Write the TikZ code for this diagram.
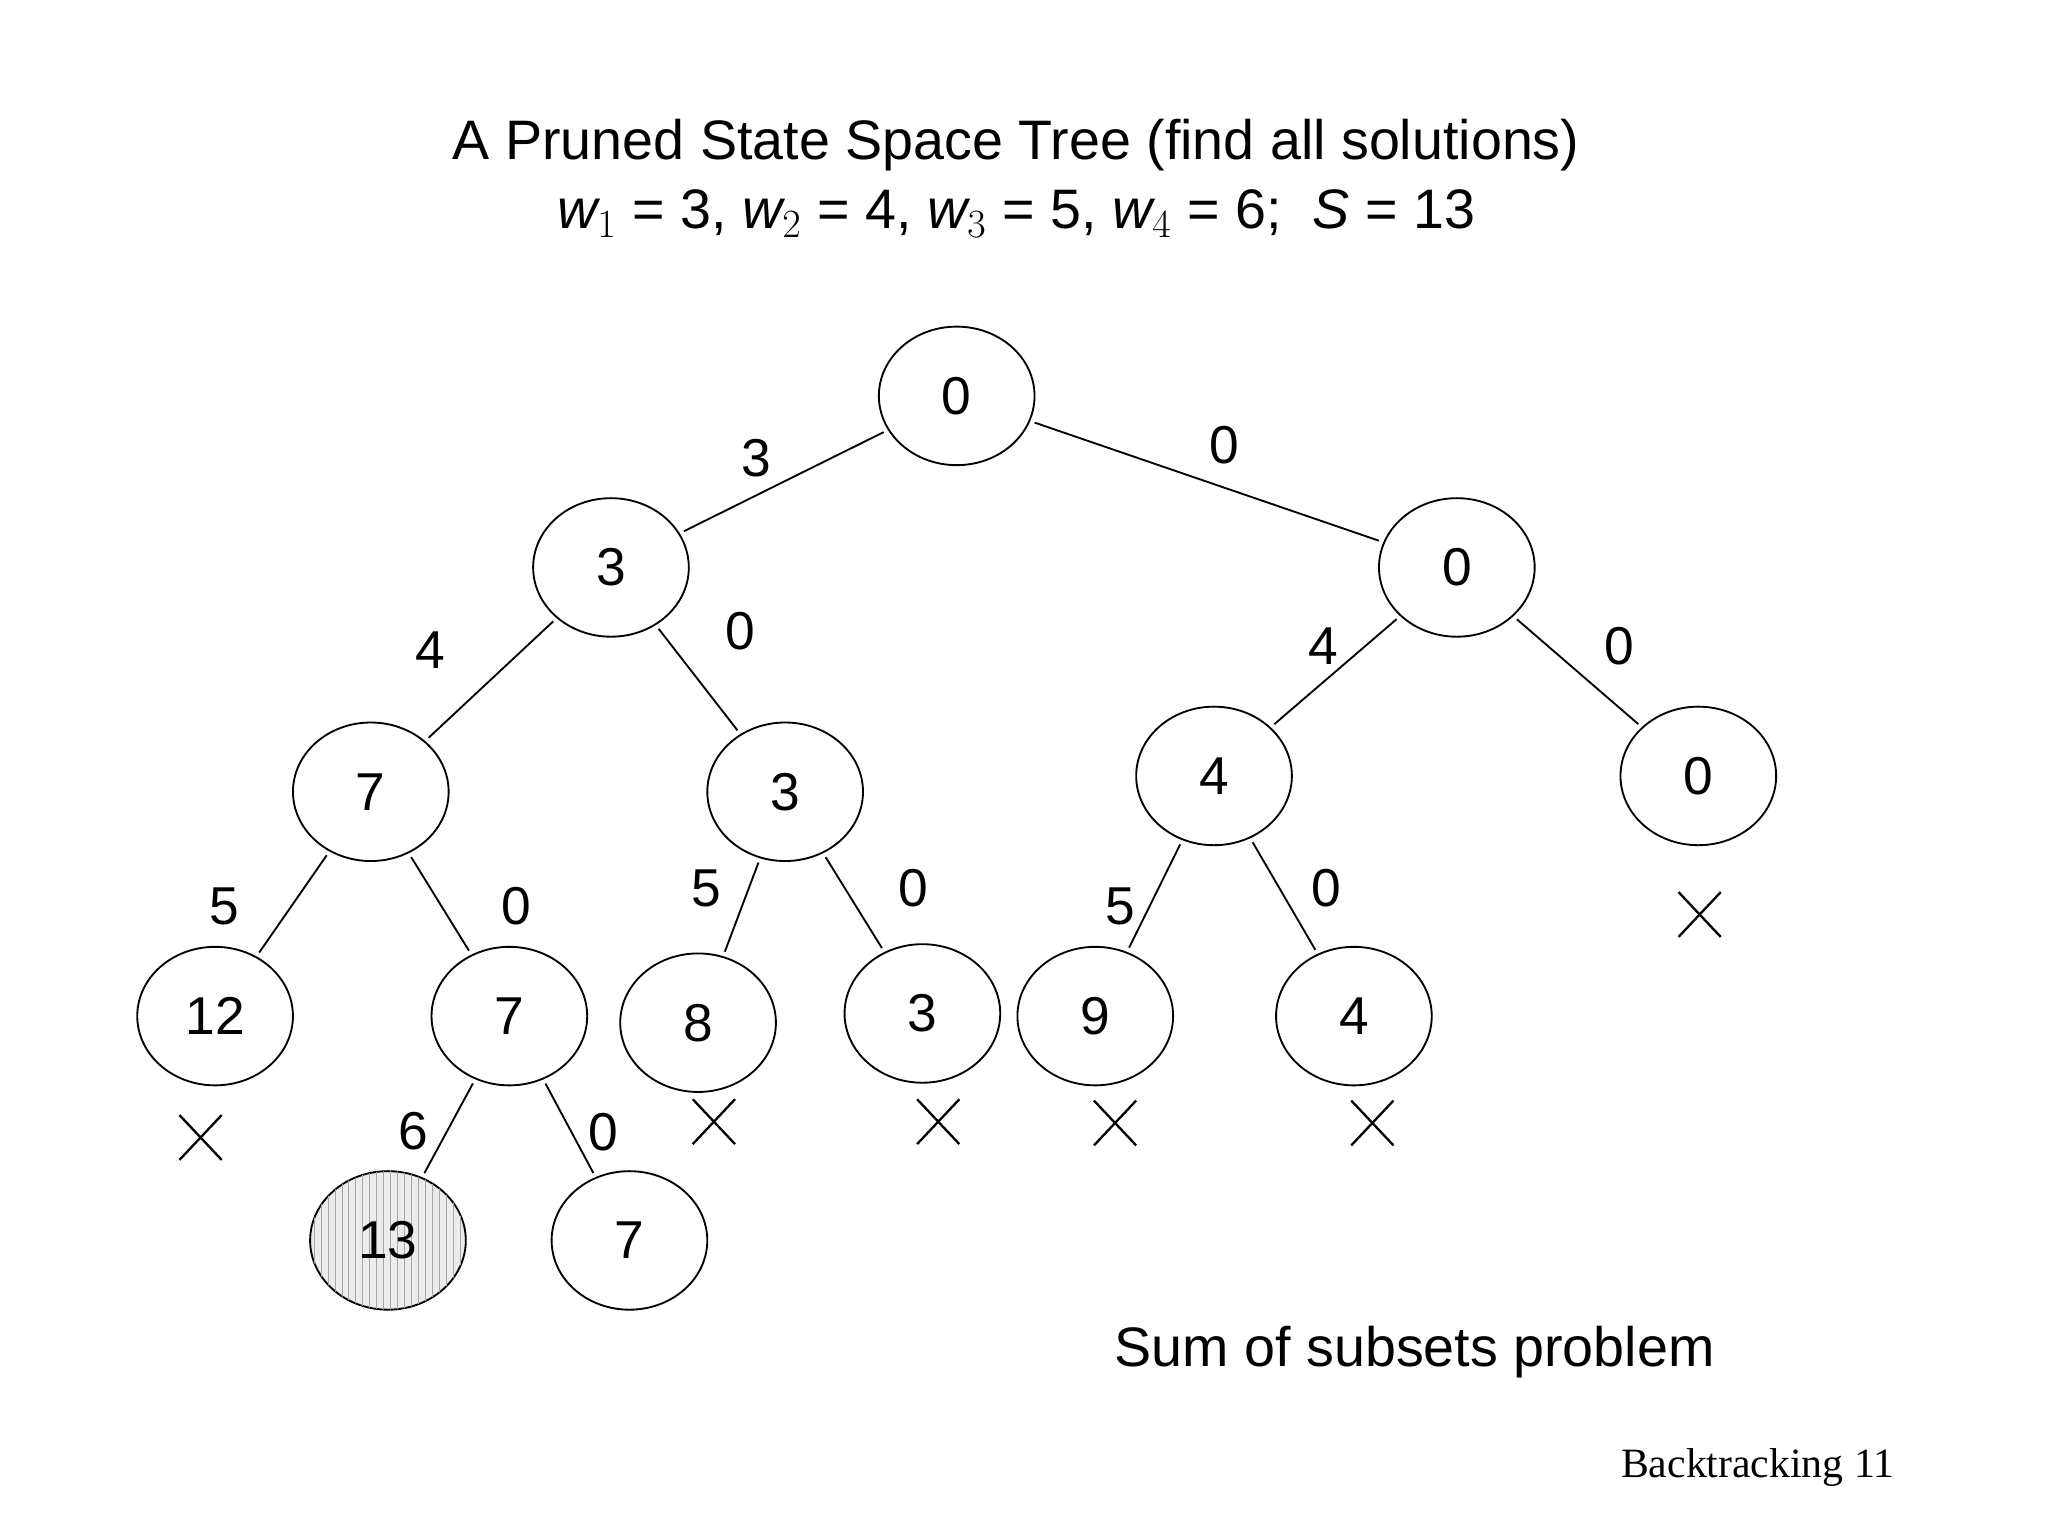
\documentclass[tikz,border=0pt]{standalone}
\usepackage{fontspec}
\setmainfont{Liberation Sans}
\newfontfamily\timesf{Liberation Serif}
\usetikzlibrary{shapes.geometric,patterns}
\begin{document}
\begin{tikzpicture}[x=0.02cm,y=-0.02cm,
  st/.style={ellipse,draw,line width=0.8pt,minimum width=2.36cm,minimum height=2.1cm,font=\fontsize{23}{26}\selectfont,inner sep=0pt},
  lb/.style={font=\fontsize{23}{26}\selectfont},
  ed/.style={line width=0.8pt,shorten <=2pt,shorten >=2pt},
  xm/.style={line width=1pt}]
\useasboundingbox (0,0) rectangle (1552,1164);
\node[font=\fontsize{24}{28}\selectfont] (t1) at (770,110) {A Pruned State Space Tree (find all solutions)};
\node[font=\fontsize{24}{28}\selectfont] (t2) at (770,162) {$\mathit{w}_{1}$ = 3, $\mathit{w}_{2}$ = 4, $\mathit{w}_{3}$ = 5, $\mathit{w}_{4}$ = 6;\ \ $\mathit{S}$ = 13};
\node[st] (r) at (725,300) {0};
\node[st] (a) at (463,430) {3};
\node[st] (b) at (1104,430) {0};
\node[st] (c) at (281,600) {7};
\node[st] (d) at (595,600) {3};
\node[st] (e) at (920,588) {4};
\node[st] (f) at (1287,588) {0};
\node[st] (g) at (163,770) {12};
\node[st] (h) at (386,770) {7};
\node[st] (i) at (529,775) {8};
\node[st] (j) at (699,768) {3};
\node[st] (k) at (830,770) {9};
\node[st] (l) at (1026,770) {4};
\node[st,fill=gray!15,postaction={pattern=vertical lines,pattern color=gray!70}] (m) at (294,940) {13};
\node[st] (n) at (477,940) {7};
\draw[ed] (r) -- (a); \draw[ed] (r) -- (b);
\draw[ed] (a) -- (c); \draw[ed] (a) -- (d);
\draw[ed] (b) -- (e); \draw[ed] (b) -- (f);
\draw[ed] (c) -- (g); \draw[ed] (c) -- (h);
\draw[ed] (d) -- (i); \draw[ed] (d) -- (j);
\draw[ed] (e) -- (k); \draw[ed] (e) -- (l);
\draw[ed] (h) -- (m); \draw[ed] (h) -- (n);
\node[lb] (l1) at (573,347) {3};
\node[lb] (l2) at (928,337) {0};
\node[lb] (l3) at (326,493) {4};
\node[lb] (l4) at (561,478) {0};
\node[lb] (l5) at (1003,490) {4};
\node[lb] (l6) at (1227,490) {0};
\node[lb] (l7) at (170,687) {5};
\node[lb] (l8) at (391,687) {0};
\node[lb] (l9) at (535,673) {5};
\node[lb] (l10) at (692,673) {0};
\node[lb] (l11) at (849,687) {5};
\node[lb] (l12) at (1005,673) {0};
\node[lb] (l13) at (313,857) {6};
\node[lb] (l14) at (457,858) {0};
\foreach \x/\y in {152/862,541/850,711/850,845/851,1040/851,1288/693}{
  \draw[xm] (\x-16,\y-17) -- (\x+16,\y+17);
  \draw[xm] (\x-16,\y+17) -- (\x+16,\y-17);
}
\node[font=\fontsize{24}{28}\selectfont] (sub) at (1072,1025) {Sum of subsets problem};
\node[font=\timesf\fontsize{18}{22}\selectfont] (bt) at (1332,1112) {Backtracking 11};
\end{tikzpicture}
\end{document}
